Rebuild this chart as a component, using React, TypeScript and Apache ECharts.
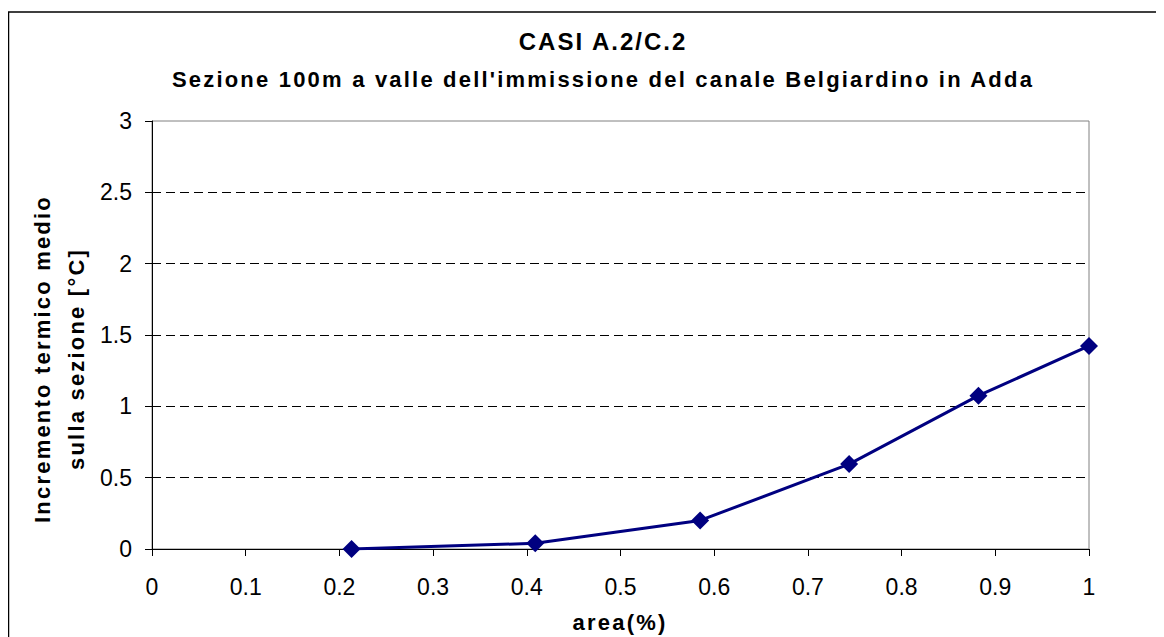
import React, { useEffect, useRef } from "react";
import * as echarts from "echarts";

const title = "CASI A.2/C.2";
const subtitle = "Sezione 100m a valle dell'immissione del canale Belgiardino in Adda";
const yName = "Incremento termico medio\nsulla sezione [°C]";
const xName = "area(%)";
const areaValues = [0.213, 0.409, 0.585, 0.744, 0.882, 1.0];
const incrementValues = [0, 0.04, 0.2, 0.595, 1.075, 1.423];

const FONT = "'Liberation Sans', Arial, sans-serif";

export default function App() {
  const ref = useRef<HTMLDivElement>(null);
  useEffect(() => {
    if (!ref.current) return;
    const chart = echarts.init(ref.current, undefined, { renderer: "svg" });
    const data = areaValues.map((x, i) => [x, incrementValues[i]]);
    chart.setOption({
      animation: false,
      backgroundColor: "#ffffff",
      textStyle: { fontFamily: FONT },
      grid: { left: 144, right: 75, top: 113, bottom: 88, show: true, borderColor: "#808080", borderWidth: 1 },
      xAxis: {
        type: "value",
        min: 0,
        max: 1,
        interval: 0.1,
        axisLine: { show: true, onZero: false, lineStyle: { color: "#000", width: 1 } },
        axisTick: { show: true, inside: false, length: 7, lineStyle: { color: "#000" } },
        splitLine: { show: false },
        axisLabel: { color: "#000", fontSize: 23, fontFamily: FONT, margin: 26, formatter: (v: number) => String(Math.round(v * 10) / 10) },
      },
      yAxis: {
        type: "value",
        min: 0,
        max: 3,
        interval: 0.5,
        axisLine: { show: true, lineStyle: { color: "#000", width: 1 } },
        axisTick: { show: true, inside: false, length: 7, lineStyle: { color: "#000" } },
        splitLine: { show: true, showMaxLine: false, showMinLine: false, lineStyle: { color: "#000", type: [9, 5], width: 1 } },
        axisLabel: { color: "#000", fontSize: 23, fontFamily: FONT, margin: 20 },
      },
      series: [
        {
          type: "line",
          data,
          symbol: "diamond",
          symbolSize: 18,
          lineStyle: { color: "#000080", width: 3 },
          itemStyle: { color: "#000080" },
          z: 5,
        },
      ],
      graphic: [
        {
          type: "rect",
          shape: { x: 0.5, y: 4, width: 1400, height: 1000 },
          style: { fill: "none", stroke: "#000", lineWidth: 1.5 },
          silent: true,
        },
        {
          type: "text",
          x: 595,
          y: 33,
          style: { text: title, font: `bold 24px ${FONT}`, fill: "#000", textAlign: "center", textVerticalAlign: "middle" },
        },
        {
          type: "text",
          x: 595,
          y: 71,
          style: { text: subtitle, font: `bold 22px ${FONT}`, fill: "#000", textAlign: "center", textVerticalAlign: "middle" },
        },
        {
          type: "text",
          x: 51,
          y: 351,
          rotation: Math.PI / 2,
          style: { text: yName, font: `bold 22px ${FONT}`, lineHeight: 34, fill: "#000", textAlign: "center", textVerticalAlign: "middle" },
        },
        {
          type: "text",
          x: 612,
          y: 614,
          style: { text: xName, font: `bold 22px ${FONT}`, fill: "#000", textAlign: "center", textVerticalAlign: "middle" },
        },
      ],
    });
    return () => chart.dispose();
  }, []);
  return (
    <>
      <style>{`text[style*="bold 22px"]{letter-spacing:2.2px;} text[style*="bold 24px"]{letter-spacing:2px;}`}</style>
      <div ref={ref} style={{ width: 1156, height: 629 }} />
    </>
  );
}
